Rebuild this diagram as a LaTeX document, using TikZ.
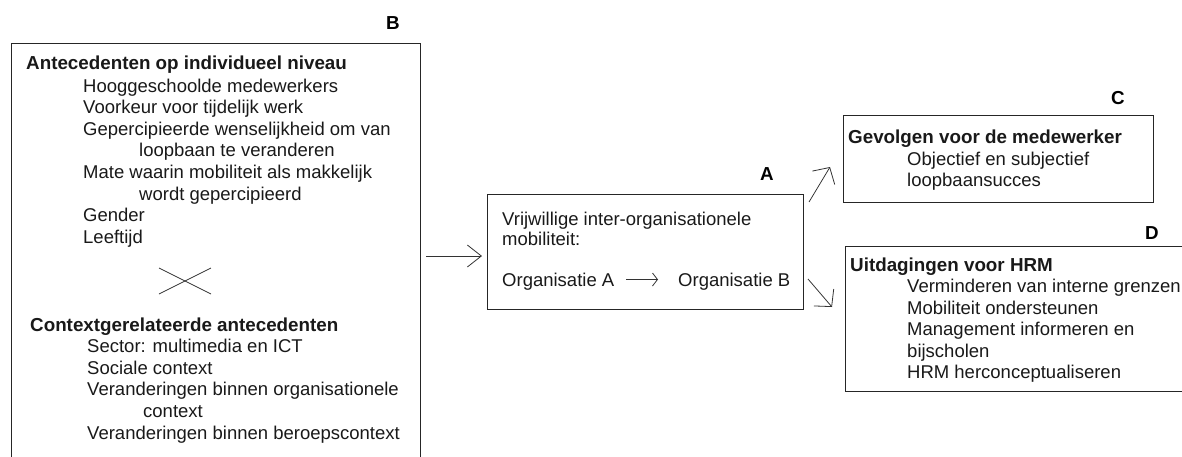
\documentclass[tikz,border=0pt]{standalone}
\usepackage{fontspec}
\setmainfont{Liberation Sans}
\usetikzlibrary{arrows.meta,calc}
\begin{document}
\begin{tikzpicture}[x=1pt,y=-1pt,
  frame/.style={draw=black!85, line width=0.9pt, inner sep=0pt, anchor=north west},
  txt/.style={anchor=base west, inner sep=0pt, text=black!90, font=\fontsize{18.5}{21.6}\selectfont},
  head/.style={txt, font=\fontsize{18.8}{21.6}\selectfont\bfseries},
  tag/.style={anchor=base, inner sep=0pt, font=\fontsize{18.8}{21.6}\selectfont\bfseries},
  link/.style={draw=black!80, line width=0.8pt, -{Straight Barb[length=14pt,width=22pt,line width=0.8pt]}},
  slant/.style={draw=black!80, line width=0.8pt, -{Straight Barb[length=12pt,width=26pt,line width=0.8pt]}},
  small/.style={draw=black!80, line width=0.8pt, -{Straight Barb[length=5pt,width=13pt,line width=0.8pt]}},
  cross/.style={draw=black!80, line width=0.7pt}
]
\useasboundingbox (0,0) rectangle (1182,456);

% boxes
\node[frame, minimum width=409pt, minimum height=440pt] (B) at (11,43) {};
\node[frame, minimum width=316pt, minimum height=115pt] (A) at (487,194) {};
\node[frame, minimum width=310pt, minimum height=87pt]  (C) at (843,115) {};
\node[frame, minimum width=350pt, minimum height=145pt] (D) at (845,246) {};

% box letters
\node[tag] (tB) at (393,29.5) {B};
\node[tag] (tA) at (767,180.5) {A};
\node[tag] (tC) at (1118,104.5) {C};
\node[tag] (tD) at (1152,239.5) {D};

% B: individual antecedents
\node[head] (b0) at (26,69.5) {Antecedenten op individueel niveau};
\node[txt] (b1) at (83,92) {Hooggeschoolde medewerkers};
\node[txt] (b2) at (83,113.6) {Voorkeur voor tijdelijk werk};
\node[txt] (b3) at (83,135.2) {Gepercipieerde wenselijkheid om van};
\node[txt] (b4) at (139,156.8) {loopbaan te veranderen};
\node[txt] (b5) at (83,178.4) {Mate waarin mobiliteit als makkelijk};
\node[txt] (b6) at (139,200) {wordt gepercipieerd};
\node[txt] (b7) at (83,221.6) {Gender};
\node[txt] (b8) at (83,243.2) {Leeftijd};

% interaction cross
\draw[cross] (159,268) -- (211,294);
\draw[cross] (159,294) -- (211,268);

% B: context antecedents
\node[head] (k0) at (30,331) {Contextgerelateerde antecedenten};
\node[txt] (k1) at (87,352.6) {Sector: multimedia en ICT};
\node[txt] (k2) at (87,374.2) {Sociale context};
\node[txt] (k3) at (87,395.8) {Veranderingen binnen organisationele};
\node[txt] (k4) at (143,417.4) {context};
\node[txt] (k5) at (87,439) {Veranderingen binnen beroepscontext};

% A: mobility
\node[txt] (a1) at (502,225) {Vrijwillige inter-organisationele};
\node[txt] (a2) at (502,245.5) {mobiliteit:};
\node[txt] (oA) at (502,286.5) {Organisatie A};
\node[txt] (oB) at (678,286.5) {Organisatie B};

% C: consequences
\node[head] (c0) at (848,143.5) {Gevolgen voor de medewerker};
\node[txt] (c1) at (907,165) {Objectief en subjectief};
\node[txt] (c2) at (907,186.5) {loopbaansucces};

% D: HRM challenges
\node[head] (d0) at (850,271) {Uitdagingen voor HRM};
\node[txt] (d1) at (907,292.5) {Verminderen van interne grenzen};
\node[txt] (d2) at (907,314) {Mobiliteit ondersteunen};
\node[txt] (d3) at (907,335.5) {Management informeren en};
\node[txt] (d4) at (907,357) {bijscholen};
\node[txt] (d5) at (907,378.5) {HRM herconceptualiseren};

% connectors
\coordinate (fromB) at (426,256);
\draw[link] (fromB) -- (fromB -| A.west) [shorten >=5pt];
\draw[small] ([xshift=12pt,yshift=7pt]oA.base east) -- ([xshift=-20pt,yshift=7pt]oB.base west);
\coordinate (upS) at (809,202);
\coordinate (upT) at (830,167);
\draw[slant] (upS) -- (upT);
\coordinate (dnS) at (808,279);
\coordinate (dnT) at (832,307);
\draw[slant] (dnS) -- (dnT);
\end{tikzpicture}
\end{document}
